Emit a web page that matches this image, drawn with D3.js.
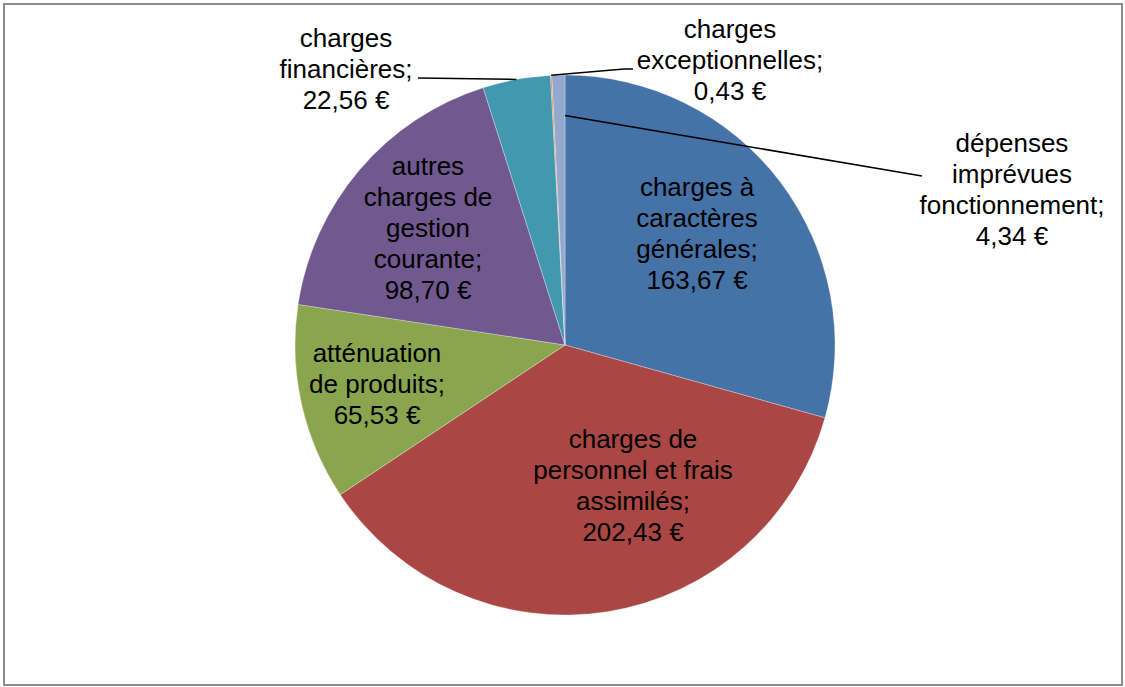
<!DOCTYPE html>
<html>
<head>
<meta charset="utf-8">
<script src="https://cdn.jsdelivr.net/npm/d3@7"></script>
<style>
  html, body { margin: 0; padding: 0; background: #fff; }
  svg { display: block; }
  text { font-family: "Liberation Sans", Arial, sans-serif; }
</style>
</head>
<body>
<svg id="chart" width="1125" height="687"></svg>
<script>
// ---- data ----
const categories = [
  "charges à caractères générales",
  "charges de personnel et frais assimilés",
  "atténuation de produits",
  "autres charges de gestion courante",
  "charges financières",
  "charges exceptionnelles",
  "dépenses imprévues fonctionnement"
];
const values = [163.67, 202.43, 65.53, 98.70, 22.56, 0.43, 4.34];
const valueLabels = ["163,67 €", "202,43 €", "65,53 €", "98,70 €", "22,56 €", "0,43 €", "4,34 €"];
const labelLines = [
  ["charges à", "caractères", "générales;"],
  ["charges de", "personnel et frais", "assimilés;"],
  ["atténuation", "de produits;"],
  ["autres", "charges de", "gestion", "courante;"],
  ["charges", "financières;"],
  ["charges", "exceptionnelles;"],
  ["dépenses", "imprévues", "fonctionnement;"]
];
const colors = ["#4572a7", "#aa4643", "#89a54e", "#71588f", "#4198af", "#db843d", "#93a9cf"];

// ---- layout ----
const W = 1125, H = 687;
const cx = 565, cy = 345, R = 270;
const fontSize = 26, lineH = 31;
// label anchor: x center, first baseline
const labelPos = [
  {x: 697, y: 196},
  {x: 633, y: 448},
  {x: 377, y: 362},
  {x: 428, y: 175},
  {x: 346, y: 47},
  {x: 730, y: 38},
  {x: 1012, y: 152}
];
// leader lines: slice-side (fraction across slice, radius fraction) and label-side points
const leaders = [
  {i: 4, frac: 0.5, rf: 1.0, pts: [[418, 78]]},
  {i: 5, frac: 0.5, rf: 1.0, pts: [[624, 69], [633, 69]]},
  {i: 6, frac: 1.0, rf: 0.85, pts: [[922, 176]]}
];

const svg = d3.select("#chart");

svg.append("rect")
  .attr("x", 4).attr("y", 4).attr("width", W - 7).attr("height", H - 6)
  .attr("fill", "#fff").attr("stroke", "#8c8c8c").attr("stroke-width", 2);

const pie = d3.pie().sort(null).value(d => d).startAngle(0).endAngle(2 * Math.PI);
const arcs = pie(values);
const arc = d3.arc().innerRadius(0).outerRadius(R);

const g = svg.append("g").attr("transform", `translate(${cx},${cy})`);
g.selectAll("path.slice")
  .data(arcs)
  .join("path")
  .attr("class", "slice")
  .attr("d", arc)
  .attr("fill", (d, i) => colors[i])
  .attr("stroke", "rgba(255,255,255,0.5)")
  .attr("stroke-width", 0.6);

// leader lines
leaders.forEach(l => {
  const a = arcs[l.i];
  const ang = a.startAngle + (a.endAngle - a.startAngle) * l.frac;
  const r = R * l.rf;
  const p0 = [cx + r * Math.sin(ang), cy - r * Math.cos(ang)];
  const pts = [p0].concat(l.pts);
  svg.append("path")
    .attr("d", d3.line()(pts))
    .attr("fill", "none")
    .attr("stroke", "#000")
    .attr("stroke-width", 1.5);
});

// labels
values.forEach((v, i) => {
  const lines = labelLines[i].concat([valueLabels[i]]);
  const t = svg.append("text")
    .attr("text-anchor", "middle")
    .attr("font-size", fontSize)
    .attr("fill", "#000");
  lines.forEach((s, k) => {
    t.append("tspan")
      .attr("x", labelPos[i].x)
      .attr("y", labelPos[i].y + k * lineH)
      .text(s);
  });
});
</script>
</body>
</html>
